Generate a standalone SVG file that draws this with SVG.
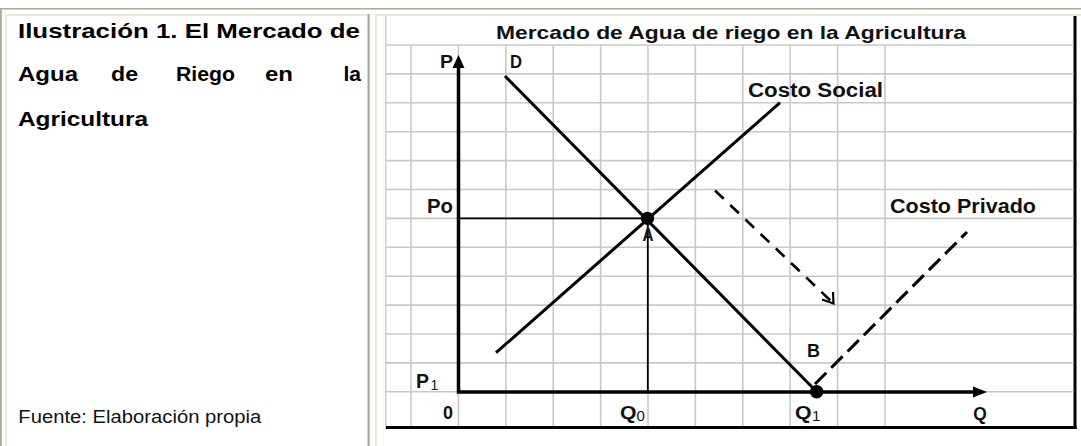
<svg xmlns="http://www.w3.org/2000/svg" width="1081" height="446" viewBox="0 0 1081 446">
<defs>
<style>
.grid line{stroke:#c8c8c8;stroke-width:1.6}
.lt{font-family:"Liberation Sans",Arial,sans-serif;font-weight:bold;fill:#000}
.gt{font-family:"Liberation Sans",Arial,sans-serif;font-weight:bold;fill:#111}
.sub{font-family:"Liberation Sans",Arial,sans-serif;font-weight:normal;fill:#111}
.curve{fill:none;stroke:#000;stroke-width:3}
.axis{fill:none;stroke:#000;stroke-width:3.5}
.guide{fill:none;stroke:#000;stroke-width:1.8}
</style>
</defs>
<rect width="1081" height="446" fill="#fff"/>
<g id="table">
<rect x="0" y="8" width="1081" height="1.5" fill="#aca899"/>
<rect x="0" y="8" width="1.8" height="438" fill="#aca899"/>
<rect x="5" y="14" width="364" height="2" fill="#ece9d8"/>
<rect x="5" y="14" width="2" height="432" fill="#ece9d8"/>
<rect x="367.5" y="14" width="2.2" height="432" fill="#aca899"/>
<rect x="375" y="14" width="706" height="2" fill="#ece9d8"/>
<rect x="375" y="14" width="2" height="432" fill="#ece9d8"/>
</g>
<g id="caption">
<text class="lt" x="18" y="37.5" font-size="21" textLength="342" lengthAdjust="spacingAndGlyphs">Ilustración 1. El Mercado de</text>
<text class="lt" x="18" y="81" font-size="21" textLength="60" lengthAdjust="spacingAndGlyphs">Agua</text>
<text class="lt" x="111" y="81" font-size="21" textLength="27" lengthAdjust="spacingAndGlyphs">de</text>
<text class="lt" x="176" y="81" font-size="21" textLength="59" lengthAdjust="spacingAndGlyphs">Riego</text>
<text class="lt" x="265" y="81" font-size="21" textLength="28" lengthAdjust="spacingAndGlyphs">en</text>
<text class="lt" x="361" y="81" font-size="21" text-anchor="end">la</text>
<text class="lt" x="18" y="125.5" font-size="21" textLength="130" lengthAdjust="spacingAndGlyphs">Agricultura</text>
</g>
<g id="source">
<text x="18.3" y="422.7" font-family="Liberation Sans, Arial, sans-serif" font-size="17.5" fill="#111" textLength="243" lengthAdjust="spacingAndGlyphs">Fuente: Elaboración propia</text>
</g>
<g id="chart-frame">
<rect x="386" y="16" width="690" height="413" fill="#fff"/>
<rect x="385" y="16" width="1.5" height="413" fill="#cfcfcf"/>
<rect x="1073.5" y="16" width="3" height="413" fill="#000"/>
<rect x="386" y="426" width="690.5" height="3" fill="#000"/>
</g>
<g id="grid" class="grid">
<line x1="386" y1="45" x2="1073.5" y2="45"/>
<line x1="386" y1="73.9" x2="1073.5" y2="73.9"/>
<line x1="386" y1="102.8" x2="1073.5" y2="102.8"/>
<line x1="386" y1="131.7" x2="1073.5" y2="131.7"/>
<line x1="386" y1="160.6" x2="1073.5" y2="160.6"/>
<line x1="386" y1="189.5" x2="1073.5" y2="189.5"/>
<line x1="386" y1="218.4" x2="1073.5" y2="218.4"/>
<line x1="386" y1="247.3" x2="1073.5" y2="247.3"/>
<line x1="386" y1="276.2" x2="1073.5" y2="276.2"/>
<line x1="386" y1="305.1" x2="1073.5" y2="305.1"/>
<line x1="386" y1="334" x2="1073.5" y2="334"/>
<line x1="386" y1="362.9" x2="1073.5" y2="362.9"/>
<line x1="386" y1="391.8" x2="1073.5" y2="391.8"/>
<line x1="411" y1="45" x2="411" y2="426"/>
<line x1="458.4" y1="45" x2="458.4" y2="426"/>
<line x1="505.8" y1="45" x2="505.8" y2="426"/>
<line x1="553.2" y1="45" x2="553.2" y2="426"/>
<line x1="600.6" y1="45" x2="600.6" y2="426"/>
<line x1="648" y1="45" x2="648" y2="426"/>
<line x1="695.4" y1="45" x2="695.4" y2="426"/>
<line x1="742.8" y1="45" x2="742.8" y2="426"/>
<line x1="790.2" y1="45" x2="790.2" y2="426"/>
<line x1="837.6" y1="45" x2="837.6" y2="426"/>
<line x1="885" y1="45" x2="885" y2="426"/>
</g>
<g id="title">
<text class="gt" x="496" y="39" font-size="19" textLength="470" lengthAdjust="spacingAndGlyphs">Mercado de Agua de riego en la Agricultura</text>
</g>
<g id="connectors">
<line class="guide" x1="458.5" y1="218.4" x2="647.5" y2="218.4"/>
<line class="guide" x1="647.8" y1="218.4" x2="647.8" y2="392"/>
<polyline class="axis" points="458.5,66 458.5,392 975,392"/>
<polygon points="458.5,55 452.5,68 464.5,68" fill="#000"/>
<polygon points="987,392 973,386.5 973,397.5" fill="#000"/>
<line id="demand" class="curve" x1="505" y1="76" x2="816.7" y2="391.7"/>
<line id="costo-social" class="curve" x1="496" y1="352.7" x2="780" y2="102.7"/>
<line id="costo-privado" class="curve" x1="815" y1="384" x2="967" y2="232" stroke-width="3.5" stroke-dasharray="16 7"/>
<line id="shift-arrow" fill="none" stroke="#000" stroke-width="2.6" stroke-dasharray="12 9" x1="715" y1="190.5" x2="832" y2="302"/>
<polyline id="shift-head" fill="none" stroke="#000" stroke-width="2.2" points="822,299.5 833.5,303.5 833,292"/>
</g>
<g id="node-A">
<circle cx="647.5" cy="218.4" r="6.6" fill="#000"/>
<text class="gt" x="642.5" y="240.7" font-size="19" textLength="11" lengthAdjust="spacingAndGlyphs">A</text>
</g>
<g id="node-B">
<circle cx="816.7" cy="391.7" r="6.8" fill="#000"/>
<text class="gt" x="807" y="357" font-size="19" textLength="13" lengthAdjust="spacingAndGlyphs">B</text>
</g>
<g id="labels">
<text class="gt" x="440" y="68" font-size="18" textLength="13" lengthAdjust="spacingAndGlyphs">P</text>
<text class="gt" x="510" y="68" font-size="18" textLength="12" lengthAdjust="spacingAndGlyphs">D</text>
<text class="gt" x="748" y="96.7" font-size="20" textLength="135" lengthAdjust="spacingAndGlyphs">Costo Social</text>
<text class="gt" x="427" y="212.7" font-size="21" textLength="26" lengthAdjust="spacingAndGlyphs">Po</text>
<text class="gt" x="890" y="212.7" font-size="21" textLength="146" lengthAdjust="spacingAndGlyphs">Costo Privado</text>
<text class="gt" x="416" y="388.3" font-size="20" textLength="13" lengthAdjust="spacingAndGlyphs">P</text>
<text class="sub" x="430.5" y="390" font-size="14">1</text>
<text class="gt" x="443" y="419" font-size="19" textLength="10" lengthAdjust="spacingAndGlyphs">0</text>
<text class="gt" x="620" y="419" font-size="19" textLength="16.5" lengthAdjust="spacingAndGlyphs">Q</text>
<text class="sub" x="636.5" y="421" font-size="15">0</text>
<text class="gt" x="795" y="419" font-size="19" textLength="16.5" lengthAdjust="spacingAndGlyphs">Q</text>
<text class="sub" x="812" y="421" font-size="15">1</text>
<text class="gt" x="973.3" y="419.5" font-size="19" textLength="13.5" lengthAdjust="spacingAndGlyphs">Q</text>
</g>
</svg>
